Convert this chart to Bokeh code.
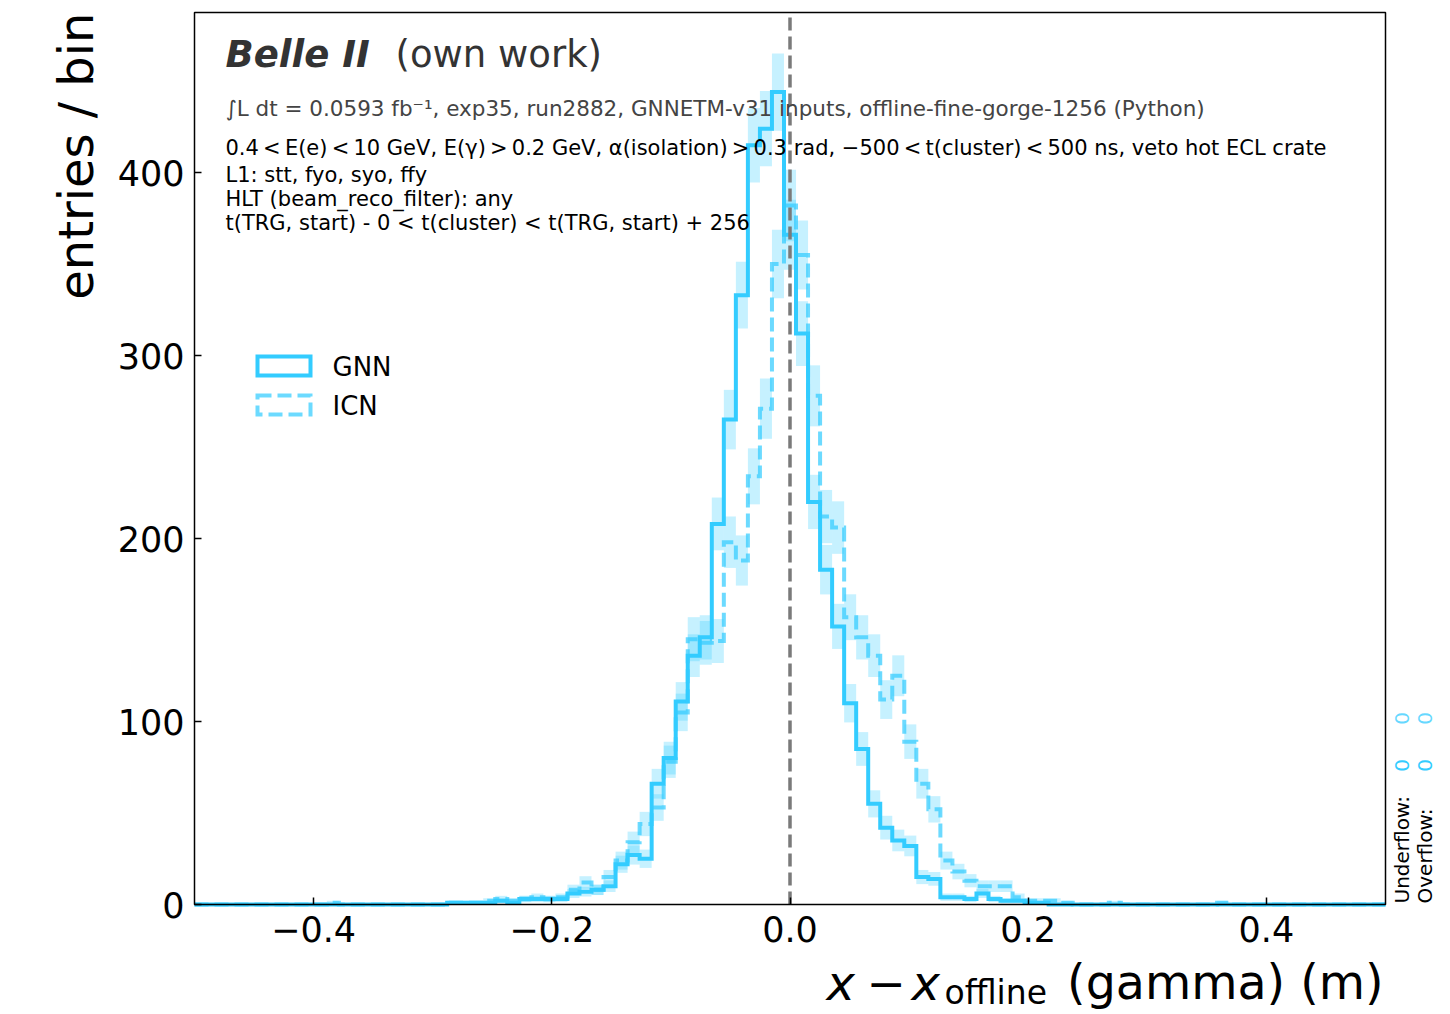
import numpy as np
from bokeh.plotting import figure
from bokeh.models import Label, FixedTicker, Range1d, BoxAnnotation
from bokeh.embed import file_html
from bokeh.resources import INLINE

# ---------------- data ----------------
x_min, x_max, n_bins = -0.5, 0.5, 99
series_names = ["GNN", "ICN"]

gnn_counts = [
    0, 0, 0, 0, 0, 0, 0, 0, 0, 0,
    0, 0, 0, 0, 0, 0, 0, 0, 0, 0,
    0, 1, 1, 1, 1, 2, 1, 3, 3, 3,
    3, 6, 7, 8, 10, 22, 27, 25, 66, 80,
    111, 136, 146, 208, 265, 333, 415, 424, 444, 366,
    312, 220, 183, 152, 110, 85, 55, 42, 35, 32,
    15, 14, 4, 4, 3, 6, 3, 2, 2, 1,
    1, 0, 0, 0, 0, 0, 0, 0, 0, 0,
    0, 0, 0, 0, 0, 0, 0, 0, 0, 0,
    0, 0, 0, 0, 0, 0, 0, 0, 0,
]
icn_counts = [
    0, 0, 0, 0, 0, 0, 0, 0, 0, 0,
    0, 1, 0, 0, 0, 0, 0, 0, 0, 0,
    0, 1, 1, 1, 2, 3, 2, 3, 4, 3,
    4, 8, 12, 8, 15, 24, 34, 44, 53, 78,
    105, 145, 143, 144, 198, 188, 234, 271, 350, 382,
    355, 278, 212, 206, 157, 146, 136, 112, 125, 89,
    66, 52, 24, 18, 13, 10, 10, 10, 4, 2,
    2, 2, 1, 0, 0, 0, 1, 0, 0, 0,
    0, 0, 0, 0, 0, 1, 0, 0, 0, 0,
    0, 0, 0, 0, 0, 0, 0, 0, 0,
]
underflow = [0, 0]
overflow = [0, 0]
zero_line_x = 0.0

x_ticks = [-0.4, -0.2, 0.0, 0.2, 0.4]
x_tick_labels = ["\u22120.4", "\u22120.2", "0.0", "0.2", "0.4"]
y_ticks = [0, 100, 200, 300, 400]
y_top = 487.5

T = "\u2009"
info_lines = [
    f"0.4{T}<{T}E(e){T}<{T}10 GeV, E(\u03b3){T}>{T}0.2 GeV, \u03b1(isolation){T}>{T}0.3 rad, "
    f"\u2212500{T}<{T}t(cluster){T}<{T}500 ns, veto hot ECL crate",
    "L1: stt, fyo, syo, ffy",
    "HLT (beam_reco_filter): any",
    "t(TRG, start) - 0 < t(cluster) < t(TRG, start) + 256",
]
lumi_line = "\u222bL dt = 0.0593 fb\u207b\u00b9, exp35, run2882, GNNETM-v31 inputs, offline-fine-gorge-1256 (Python)"

# ---------------- layout ----------------
W, H = 1450, 1014
BL, BR, BT, BB = 194, 65, 12, 110          # axes box inside the canvas
FW, FH = W - BL - BR, H - BT - BB
FONT = "DejaVu Sans"
C = "#33ccff"

sx = FW / (x_max - x_min)
sy = FH / y_top
x_start, x_end = x_min - BL / sx, x_max + BR / sx
y_start, y_end = -BB / sy, y_top + BT / sy


def dx(px):
    return x_start + px / sx


def dy(py):
    return y_end - py / sy


p = figure(width=W, height=H, output_backend="svg", toolbar_location=None,
           title=None, x_range=Range1d(x_start, x_end), y_range=Range1d(y_start, y_end),
           min_border=0)
p.grid.visible = False
p.outline_line_color = None
p.background_fill_color = "white"
p.border_fill_color = "white"

p.xaxis.fixed_location = 0
p.yaxis.fixed_location = x_min
p.xaxis.bounds = (x_min, x_max)
p.yaxis.bounds = (0, y_top)
for ax in (p.xaxis[0], p.yaxis[0]):
    ax.major_tick_in = 7
    ax.major_tick_out = 0
    ax.minor_tick_line_color = None
    ax.major_tick_line_width = 1.5
    ax.major_tick_line_color = "black"
    ax.axis_line_color = None
    ax.major_label_text_font = FONT
    ax.major_label_text_font_size = "35px"
    ax.major_label_text_color = "black"
p.xaxis.ticker = FixedTicker(ticks=x_ticks)
p.xaxis.major_label_overrides = {t: l for t, l in zip(x_ticks, x_tick_labels)}
p.xaxis.major_label_standoff = 11
p.yaxis.ticker = FixedTicker(ticks=y_ticks)
p.yaxis.major_label_standoff = 10

edges = np.linspace(x_min, x_max, n_bins + 1)


def outline(counts):
    xs = np.repeat(edges, 2)
    ys = np.concatenate([[0], np.repeat(np.asarray(counts, float), 2), [0]])
    return xs, ys


# error boxes (sqrt(N))
for counts in (gnn_counts, icn_counts):
    c = np.asarray(counts, float)
    e = np.sqrt(c)
    p.quad(left=edges[:-1], right=edges[1:], bottom=c - e, top=c + e,
           fill_color=C, fill_alpha=0.28, line_color=None)

xs, ys = outline(gnn_counts)
p.line(xs, ys, line_color=C, line_width=4, line_join="miter")
xs, ys = outline(icn_counts)
p.line(xs, ys, line_color=C, line_alpha=0.72, line_width=4,
       line_dash="14 6", line_join="miter")

p.segment(x0=[zero_line_x], y0=[0], x1=[zero_line_x], y1=[y_top],
          line_color="#7a7a7a", line_width=3.5, line_dash="13 6")

# axes box
p.add_layout(BoxAnnotation(left=x_min, right=x_max, bottom=0, top=y_top,
                           fill_alpha=0, fill_color=None, line_color="black",
                           line_alpha=1.0, line_width=1.5))

# ---------------- legend (manual) ----------------
leg_styles = [dict(line_alpha=1.0, line_dash="solid"),
              dict(line_alpha=0.72, line_dash="14 6")]
for i, (name, st) in enumerate(zip(series_names, leg_styles)):
    top_px = 356 + 39 * i
    p.quad(left=dx(257), right=dx(310), top=dy(top_px), bottom=dy(top_px + 19),
           fill_alpha=0, line_color=C, line_width=4, line_join="miter", **st)
    p.add_layout(Label(x=dx(332), y=dy(top_px + 10), text=name,
                       text_font=FONT, text_font_size="26px",
                       text_baseline="middle", text_align="left",
                       text_color="black"))

# ---------------- texts ----------------
p.add_layout(Label(x=dx(225), y=dy(54), text="Belle II", text_font=FONT,
                   text_font_size="37px", text_font_style="bold italic",
                   text_color="#333333", text_baseline="middle"))
p.add_layout(Label(x=dx(395), y=dy(54), text="(own work)", text_font=FONT,
                   text_font_size="37px", text_color="#333333",
                   text_baseline="middle"))
p.add_layout(Label(x=dx(225), y=dy(108), text=lumi_line, text_font=FONT,
                   text_font_size="21.5px", text_color="#444444",
                   text_baseline="middle"))
for t, cy in zip(info_lines, [147, 174, 198, 222]):
    p.add_layout(Label(x=dx(225), y=dy(cy), text=t, text_font=FONT,
                       text_font_size="21px", text_color="black",
                       text_baseline="middle"))

# axis labels
p.add_layout(Label(x=dx(75), y=dy(12), text="entries / bin", text_font=FONT,
                   text_font_size="48px", angle=np.pi / 2, text_align="right",
                   text_baseline="middle", text_color="black"))
xl_mid = 982
p.add_layout(Label(x=dx(826), y=dy(xl_mid), text="x", text_font=FONT,
                   text_font_size="48px", text_font_style="italic",
                   text_baseline="middle", text_color="black"))
p.add_layout(Label(x=dx(866), y=dy(xl_mid), text="\u2212", text_font=FONT,
                   text_font_size="47px", text_baseline="middle",
                   text_color="black"))
p.add_layout(Label(x=dx(911), y=dy(xl_mid), text="x", text_font=FONT,
                   text_font_size="48px", text_font_style="italic",
                   text_baseline="middle", text_color="black"))
p.add_layout(Label(x=dx(944), y=dy(xl_mid + 10), text="offline", text_font=FONT,
                   text_font_size="33px", text_baseline="middle",
                   text_color="black"))
p.add_layout(Label(x=dx(1383), y=dy(xl_mid), text="(gamma) (m)", text_font=FONT,
                   text_font_size="47.5px", text_align="right",
                   text_baseline="middle", text_color="black"))

# under/overflow
for name, xc, vals in (("Underflow:", 1401, underflow), ("Overflow:", 1424, overflow)):
    p.add_layout(Label(x=dx(xc), y=dy(903), text=name, text_font=FONT,
                       text_font_size="20px", angle=np.pi / 2, text_align="left",
                       text_baseline="middle", text_color="black"))
    for v, yc, a in zip(vals, (765, 718), (1.0, 0.75)):
        p.add_layout(Label(x=dx(xc), y=dy(yc), text=str(v), text_font=FONT,
                           text_font_size="20px", angle=np.pi / 2,
                           text_align="center", text_baseline="middle",
                           text_color=C, text_alpha=a))

open("out.html", "w").write(file_html(p, INLINE))
